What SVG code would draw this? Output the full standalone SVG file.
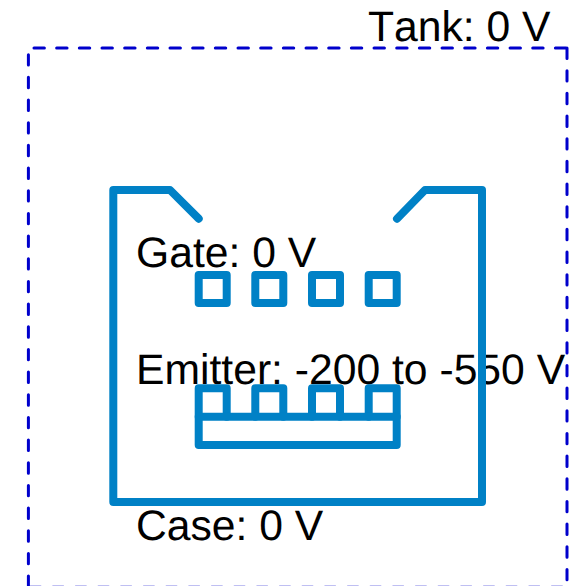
<svg xmlns="http://www.w3.org/2000/svg" width="574" height="586" viewBox="0 0 574 586">
<style>
.tank{fill:none;stroke:#0000cc;stroke-width:3;stroke-dasharray:10.4 12.27;stroke-linecap:round}
.part{fill:none;stroke:#0081c6;stroke-width:8;stroke-linejoin:round;stroke-linecap:round}
text{font-family:"Liberation Sans",Arial,sans-serif;font-size:42.67px;fill:#000;font-kerning:none;text-rendering:geometricPrecision}
</style>
<rect width="574" height="586" fill="#fff"/>
<g id="labels">
<text x="368" y="41">Tank: 0 V</text>
<text x="136" y="267">Gate: 0 V</text>
<text x="136" y="384">Emitter: -200 to -550 V</text>
<text x="136" y="540">Case: 0 V</text>
</g>
<g id="tank"><path class="tank" d="M567 48V587.2H29"/><path class="tank" d="M28.4 586.5V48H567"/></g>
<g id="case"><path class="part" d="M198.7 218.7L170 190H113.3V502H482V190H425L397 218.7"/></g>
<g id="gate">
<rect class="part" x="198.7" y="275" width="28" height="28"/>
<rect class="part" x="255.3" y="275" width="28" height="28"/>
<rect class="part" x="312" y="275" width="28" height="28"/>
<rect class="part" x="368.7" y="275" width="28" height="28"/>
</g>
<g id="emitter">
<path class="part" d="M198.7 416.7V388.3H226.7V416.7M255.3 416.7V388.3H283.3V416.7M312 416.7V388.3H340V416.7M368.7 416.7V388.3H396.7V416.7"/>
<rect class="part" x="198.7" y="416.7" width="198" height="28.3"/>
</g>
<g id="connectors"/>
</svg>
